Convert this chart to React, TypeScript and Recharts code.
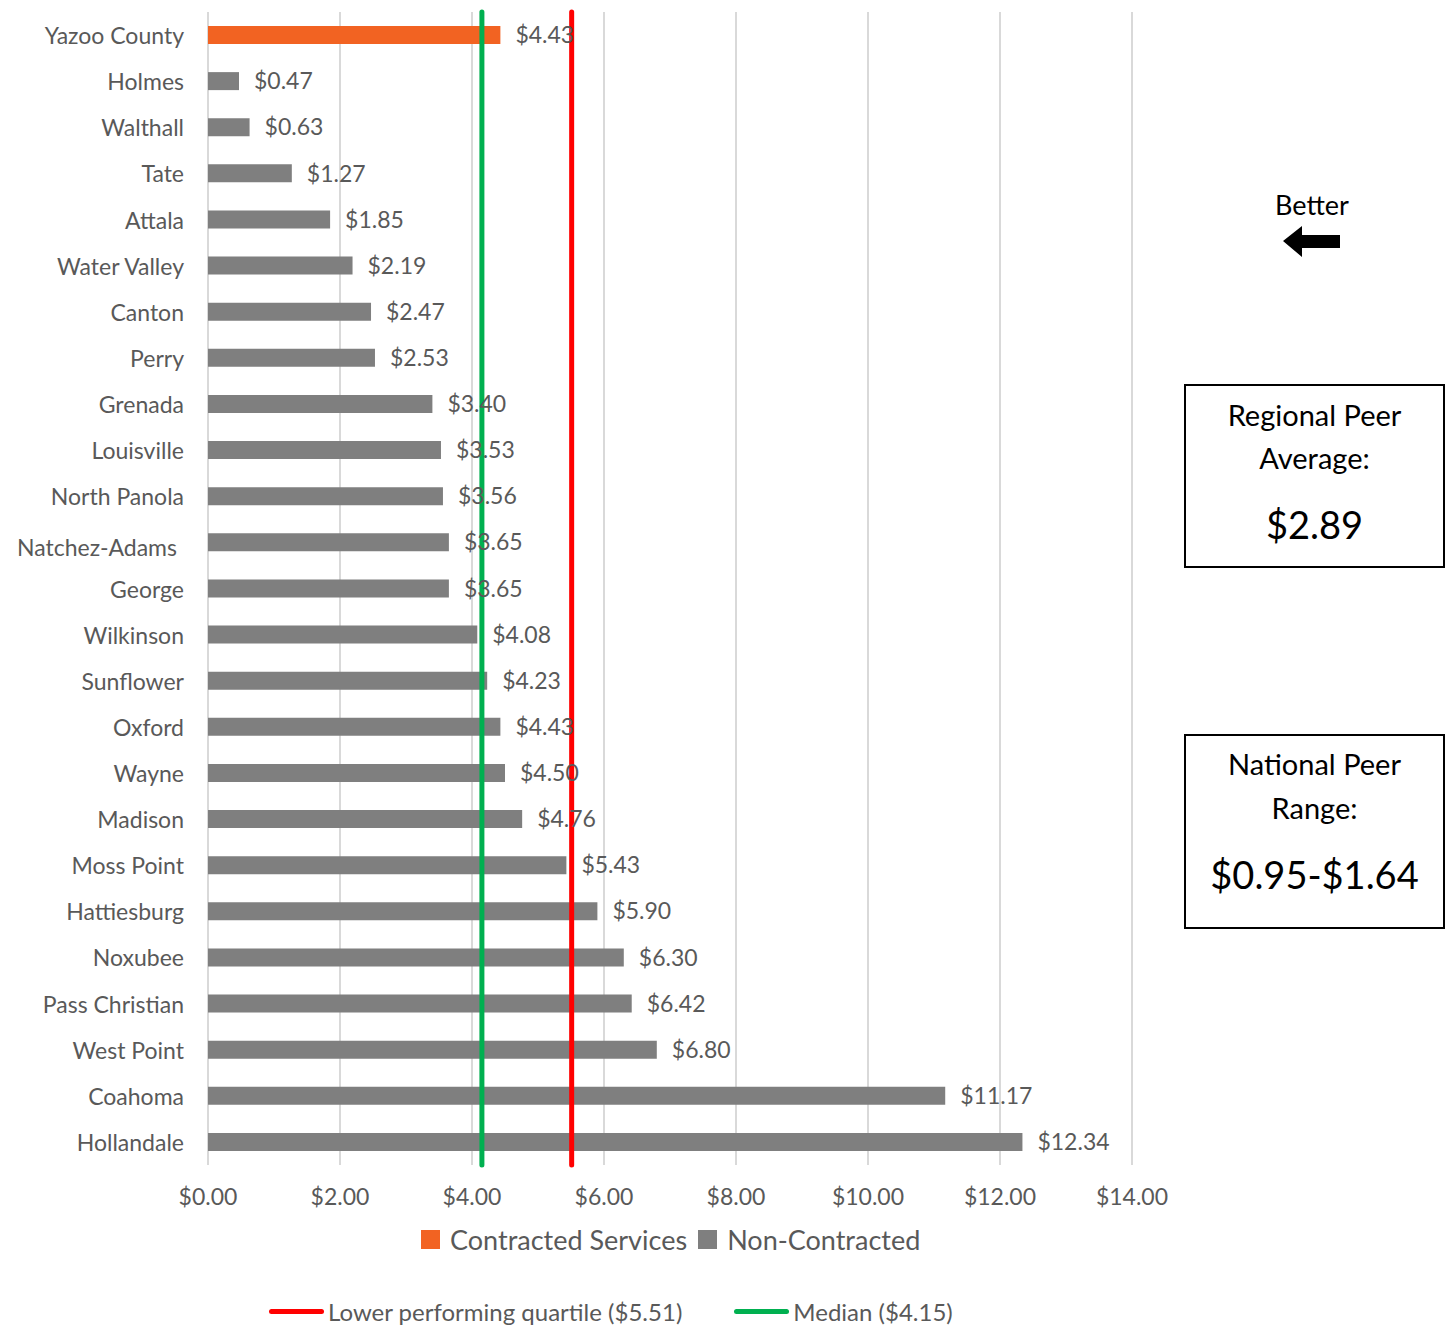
import { BarChart, Bar, XAxis, YAxis, CartesianGrid, ReferenceLine, LabelList, Cell } from "recharts";

const districts = [
  "Yazoo County", "Holmes", "Walthall", "Tate", "Attala", "Water Valley", "Canton", "Perry",
  "Grenada", "Louisville", "North Panola", "Natchez-Adams", "George", "Wilkinson", "Sunflower",
  "Oxford", "Wayne", "Madison", "Moss Point", "Hattiesburg", "Noxubee", "Pass Christian",
  "West Point", "Coahoma", "Hollandale",
];
const costs = [
  4.43, 0.47, 0.63, 1.27, 1.85, 2.19, 2.47, 2.53, 3.4, 3.53, 3.56, 3.65, 3.65, 4.08, 4.23,
  4.43, 4.5, 4.76, 5.43, 5.9, 6.3, 6.42, 6.8, 11.17, 12.34,
];
const contracted = ["Yazoo County"];
const xTicks = [0, 2, 4, 6, 8, 10, 12, 14];
const lowerQuartile = 5.51;
const median = 4.15;

const ORANGE = "#F26322";
const GREY = "#7F7F7F";
const TEXT = "#595959";
const FONT = "Lato, 'Open Sans', sans-serif";

const data = districts.map((name, i) => ({ name, value: costs[i] }));
const money = (v: number) => `$${v.toFixed(2)}`;

function CategoryTick(props: any) {
  const { x, y, payload } = props;
  // the original has this one label nudged left/down
  const odd = payload.value === "Natchez-Adams";
  return (
    <text
      x={x - (odd ? 23 : 16)}
      y={y + (odd ? 5 : 0)}
      textAnchor="end"
      dominantBaseline="central"
      fill={TEXT}
      fontSize={23}
      fontFamily={FONT}
    >
      {payload.value}
    </text>
  );
}

export default function App() {
  return (
    <div style={{ position: "absolute", left: 0, top: 0, width: 1451, height: 1328, background: "#fff", fontFamily: FONT }}>
      <BarChart
        width={1200}
        height={1328}
        data={data}
        layout="vertical"
        margin={{ top: 12, right: 68, left: 0, bottom: 123 }}
        barCategoryGap={0}
      >
        <CartesianGrid horizontal={false} stroke="#D9D9D9" strokeWidth={2} />
        <XAxis
          type="number"
          domain={[0, 14]}
          ticks={xTicks}
          tickFormatter={money}
          axisLine={false}
          tickLine={false}
          height={40}
          tickMargin={18}
          tick={{ fill: TEXT, fontSize: 23, fontFamily: FONT }}
        />
        <YAxis
          type="category"
          dataKey="name"
          width={208}
          axisLine={false}
          tickLine={false}
          interval={0}
          tick={<CategoryTick />}
        />
        <Bar dataKey="value" barSize={18} isAnimationActive={false}>
          {data.map((d) => (
            <Cell key={d.name} fill={contracted.includes(d.name) ? ORANGE : GREY} />
          ))}
          <LabelList
            dataKey="value"
            position="right"
            offset={15}
            formatter={(v: any) => money(Number(v))}
            fill={TEXT}
            fontSize={23}
            fontFamily={FONT}
          />
        </Bar>
        <ReferenceLine x={median} stroke="#00B050" strokeWidth={5} strokeLinecap="round" />
        <ReferenceLine x={lowerQuartile} stroke="#FF0000" strokeWidth={5} strokeLinecap="round" />
      </BarChart>

      {/* legend: series */}
      <div style={{ position: "absolute", top: 1223, left: 421, display: "flex", alignItems: "center", fontSize: 27, color: TEXT, whiteSpace: "nowrap" }}>
        <span style={{ width: 19, height: 19, background: ORANGE, marginRight: 10, display: "inline-block" }} />
        <span>Contracted Services</span>
        <span style={{ width: 19, height: 19, background: GREY, margin: "0 10px 0 11px", display: "inline-block" }} />
        <span>Non-Contracted</span>
      </div>

      {/* legend: reference lines */}
      <div style={{ position: "absolute", top: 1297, left: 269, display: "flex", alignItems: "center", fontSize: 24, color: TEXT, whiteSpace: "nowrap" }}>
        <span style={{ width: 55, height: 5, borderRadius: 3, background: "#FF0000", marginRight: 4, display: "inline-block" }} />
        <span>Lower performing quartile ({money(lowerQuartile)})</span>
        <span style={{ width: 55, height: 5, borderRadius: 3, background: "#00B050", margin: "0 4px 0 52px", display: "inline-block" }} />
        <span>Median ({money(median)})</span>
      </div>

      {/* annotations */}
      <div style={{ position: "absolute", top: 188, left: 1212, width: 200, textAlign: "center", fontSize: 27, color: "#000" }}>
        Better
      </div>
      <svg style={{ position: "absolute", left: 1280, top: 224 }} width={64} height={36}>
        <polygon points="3,17 22,2 22,11 60,11 60,24 22,24 22,33" fill="#000" />
      </svg>

      <div style={{ position: "absolute", top: 384, left: 1184, width: 257, height: 180, border: "2px solid #000", textAlign: "center", color: "#000" }}>
        <div style={{ fontSize: 29, lineHeight: "43px", marginTop: 7 }}>Regional Peer</div>
        <div style={{ fontSize: 29, lineHeight: "43px" }}>Average:</div>
        <div style={{ fontSize: 38, lineHeight: "50px", marginTop: 20 }}>$2.89</div>
      </div>

      <div style={{ position: "absolute", top: 734, left: 1184, width: 257, height: 191, border: "2px solid #000", textAlign: "center", color: "#000" }}>
        <div style={{ fontSize: 29, lineHeight: "44px", marginTop: 6 }}>National Peer</div>
        <div style={{ fontSize: 29, lineHeight: "44px" }}>Range:</div>
        <div style={{ fontSize: 38, lineHeight: "50px", marginTop: 19 }}>$0.95-$1.64</div>
      </div>
    </div>
  );
}
